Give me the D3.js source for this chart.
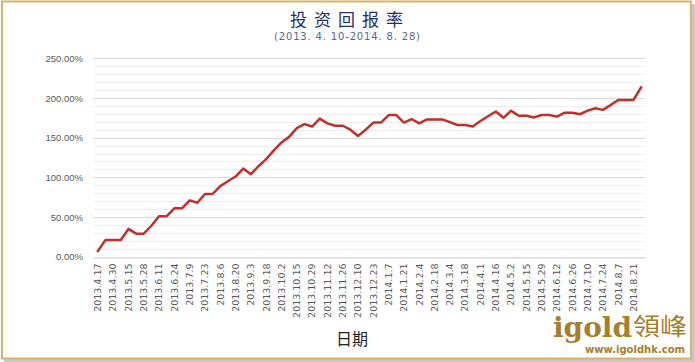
<!DOCTYPE html>
<html>
<head>
<meta charset="utf-8">
<script src="https://cdn.jsdelivr.net/npm/d3@7"></script>
<style>
    body { margin: 0; background: #fff; }
    svg { display: block; }
</style>
</head>
<body>
<div id="chart"></div>
<script>
// tick labels, every other point gets one
var dateLabels = ["2013.4.17", "2013.4.30", "2013.5.15", "2013.5.28", "2013.6.11", "2013.6.24",
    "2013.7.9", "2013.7.23", "2013.8.6", "2013.8.20", "2013.9.3", "2013.9.18",
    "2013.10.2", "2013.10.15", "2013.10.29", "2013.11.12", "2013.11.26", "2013.12.10",
    "2013.12.23", "2014.1.7", "2014.1.21", "2014.2.4", "2014.2.18", "2014.3.4",
    "2014.3.18", "2014.4.1", "2014.4.16", "2014.5.2", "2014.5.15", "2014.5.29",
    "2014.6.12", "2014.6.26", "2014.7.10", "2014.7.24", "2014.8.7", "2014.8.21"];

// return in percent, one value per week
var returns = [7, 21, 21, 21, 35, 29, 29, 39, 51, 51, 61, 61,
    71, 68, 79, 79, 89, 95, 101, 111, 104, 114, 123, 134,
    144, 151, 162, 167, 164, 174, 168, 165, 165, 160, 152, 160,
    169, 169, 178.5, 178.5, 169, 173.5, 168, 173, 173, 173, 169.5, 166,
    166, 164, 171, 177, 183, 175, 184, 177.5, 177.5, 175.5, 178.5, 178.5,
    176.5, 181.5, 181.5, 179.5, 184, 187, 185, 191, 197.5, 197.5, 197.5, 213.5];

var yTicks = [0, 50, 100, 150, 200, 250];
var yMinor = d3.range(0, 251, 10);

function init() {
    var w = 695;
    var h = 362;
    var gold = "#a57f2e";

    var svg = d3.select("#chart")
        .append("svg")
        .attr("width", w)
        .attr("height", h);

    // frame + shadow
    svg.append("rect")
        .attr("x", 4).attr("y", 4)
        .attr("width", 691).attr("height", 358)
        .attr("fill", "#c9c9c9");
    svg.append("rect")
        .attr("x", 2).attr("y", 1.5)
        .attr("width", 689).attr("height", 357)
        .attr("fill", "#fff")
        .attr("stroke", "#d9b464")
        .attr("stroke-width", 2);

    var xScale = d3.scaleBand()
        .domain(d3.range(returns.length))
        .range([94, 645]);

    var yScale = d3.scaleLinear()
        .domain([0, 250])
        .range([256.7, 58.3]);

    // gridlines
    svg.append("g")
        .selectAll("line")
        .data(yMinor)
        .enter()
        .append("line")
        .attr("x1", 94)
        .attr("x2", 645)
        .attr("y1", function (d) { return Math.round(yScale(d)) + 0.5; })
        .attr("y2", function (d) { return Math.round(yScale(d)) + 0.5; })
        .attr("stroke", function (d) { return d % 50 == 0 ? "#d9d9d9" : "#eeeeee"; })
        .attr("stroke-width", 1);

    // y axis
    var yAxis = d3.axisLeft(yScale)
        .tickValues(yTicks)
        .tickSize(0)
        .tickPadding(11)
        .tickFormat(function (d) { return d.toFixed(2) + "%"; });

    var gy = svg.append("g")
        .attr("transform", "translate(94,0)")
        .call(yAxis);
    gy.select(".domain").remove();
    gy.selectAll("text")
        .attr("font-family", "Liberation Sans, Arial, sans-serif")
        .attr("font-size", "9.5px")
        .attr("fill", "#595959");

    // x axis
    var xAxis = d3.axisBottom(xScale)
        .tickSize(0)
        .tickFormat(function (d) { return d % 2 == 0 ? dateLabels[d / 2] : ""; });

    var gx = svg.append("g")
        .attr("transform", "translate(0," + (Math.round(yScale(0)) + 0.5) + ")")
        .call(xAxis);
    gx.select(".domain").attr("stroke", "#d9d9d9");
    gx.selectAll("text")
        .attr("font-family", "DejaVu Sans, sans-serif")
        .attr("font-size", "9.5px")
        .attr("fill", "#595959")
        .attr("transform", "rotate(-90)")
        .attr("text-anchor", "end")
        .attr("x", -6)
        .attr("y", 0)
        .attr("dy", "0.35em");

    // line
    var line = d3.line()
        .x(function (d, i) { return xScale(i) + xScale.bandwidth() / 2; })
        .y(function (d) { return yScale(d); });

    svg.append("path")
        .datum(returns)
        .attr("d", line)
        .attr("fill", "none")
        .attr("stroke", "#c0302d")
        .attr("stroke-width", 2.5)
        .attr("stroke-linejoin", "round")
        .attr("stroke-linecap", "round");

    // titles
    svg.append("text")
        .attr("x", 290)
        .attr("y", 26)
        .attr("textLength", 113)
        .attr("lengthAdjust", "spacing")
        .attr("font-family", "Noto Sans CJK SC, sans-serif")
        .attr("font-size", "17px")
        .attr("fill", "#22306e")
        .text("投资回报率");

    svg.append("text")
        .attr("x", 274)
        .attr("y", 40)
        .attr("textLength", 146)
        .attr("lengthAdjust", "spacing")
        .attr("font-family", "DejaVu Sans, sans-serif")
        .attr("font-size", "10px")
        .attr("fill", "#5a6788")
        .text("(2013. 4. 10-2014. 8. 28)");

    svg.append("text")
        .attr("x", 352)
        .attr("y", 345)
        .attr("text-anchor", "middle")
        .attr("font-family", "Noto Sans CJK SC, sans-serif")
        .attr("font-size", "16px")
        .attr("fill", "#222")
        .text("日期");

    // logo
    svg.append("text")
        .attr("x", 553)
        .attr("y", 337)
        .attr("textLength", 79)
        .attr("lengthAdjust", "spacingAndGlyphs")
        .attr("font-family", "DejaVu Serif, serif")
        .attr("font-weight", "bold")
        .attr("font-size", "27px")
        .attr("fill", gold)
        .text("igold");

    svg.append("text")
        .attr("x", 633)
        .attr("y", 335)
        .attr("textLength", 54)
        .attr("lengthAdjust", "spacingAndGlyphs")
        .attr("font-family", "Noto Sans CJK TC, sans-serif")
        .attr("font-size", "24px")
        .attr("fill", gold)
        .text("領峰");

    svg.append("text")
        .attr("x", 585)
        .attr("y", 353)
        .attr("textLength", 100)
        .attr("lengthAdjust", "spacingAndGlyphs")
        .attr("font-family", "DejaVu Sans, sans-serif")
        .attr("font-weight", "bold")
        .attr("font-size", "10.5px")
        .attr("fill", gold)
        .text("www.igoldhk.com");
}
window.onload = init;
</script>
</body>
</html>
